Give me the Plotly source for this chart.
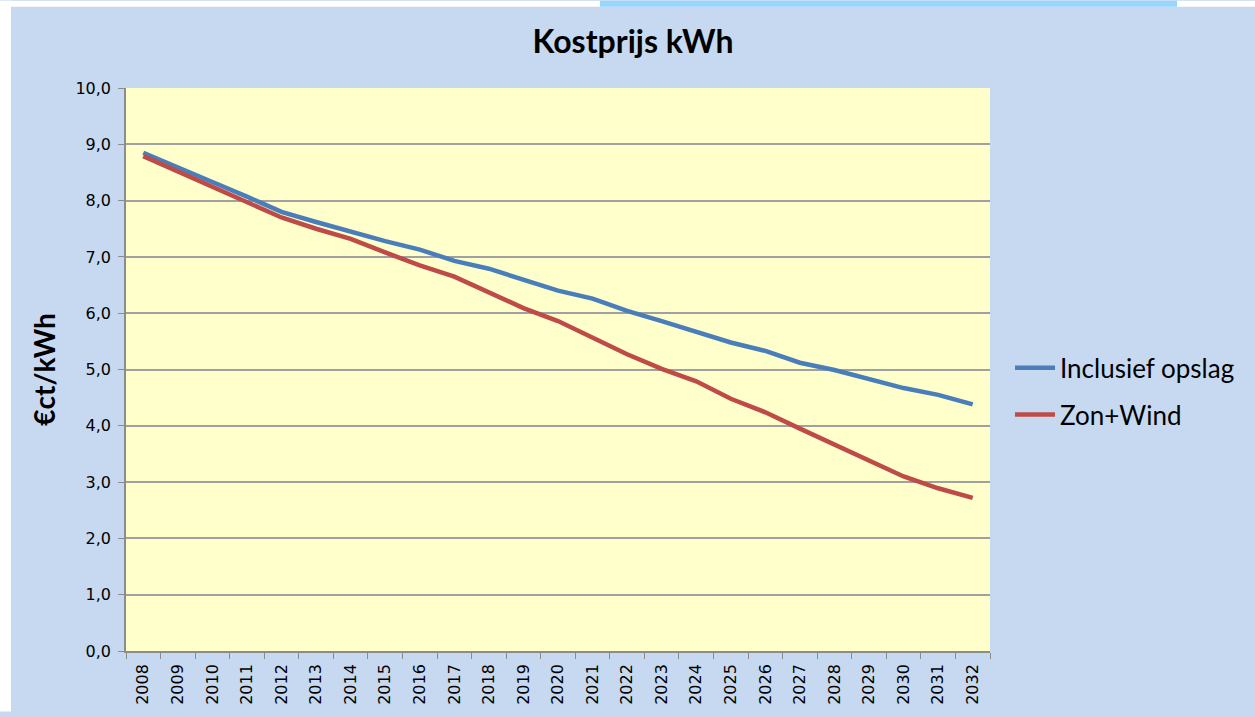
import plotly.graph_objects as go

years = [str(y) for y in range(2008, 2033)]
inclusief_opslag = [8.85, 8.58, 8.33, 8.07, 7.80, 7.62, 7.44, 7.28, 7.13, 6.93, 6.79, 6.60, 6.40, 6.26, 6.04, 5.86, 5.67, 5.48, 5.33, 5.12, 4.99, 4.83, 4.67, 4.55, 4.38]
zon_wind = [8.79, 8.52, 8.26, 7.98, 7.70, 7.50, 7.32, 7.08, 6.85, 6.65, 6.37, 6.09, 5.86, 5.56, 5.27, 5.01, 4.79, 4.48, 4.24, 3.95, 3.66, 3.37, 3.10, 2.89, 2.72]
y_ticks = [0, 1, 2, 3, 4, 5, 6, 7, 8, 9, 10]
y_labels = ["0,0", "1,0", "2,0", "3,0", "4,0", "5,0", "6,0", "7,0", "8,0", "9,0", "10,0"]

W, H = 1255, 717
L, R, T, B = 126, 265, 88, 61
PW, PH = W - L - R, H - T - B

def px(x):
    return (x - L) / PW

def py(y):
    return (H - B - y) / PH

fig = go.Figure()
fig.add_trace(go.Scatter(x=years, y=inclusief_opslag, mode="lines", name="Inclusief opslag",
                         legendgroup="a", line=dict(color="#4a7ebb", width=4.5)))
fig.add_trace(go.Scatter(x=years, y=zon_wind, mode="lines", name="Zon+Wind",
                         legendgroup="b", line=dict(color="#be4b48", width=4.5)))

shapes = [
    dict(type="rect", xref="paper", yref="paper", x0=px(0), x1=px(11), y0=py(H), y1=py(0),
         fillcolor="white", line=dict(width=0), layer="below"),
    dict(type="rect", xref="paper", yref="paper", x0=px(0), x1=px(W), y0=py(6), y1=py(0),
         fillcolor="white", line=dict(width=0), layer="below"),
    dict(type="rect", xref="paper", yref="paper", x0=px(600), x1=px(1177), y0=py(6), y1=py(0),
         fillcolor="#97d5fa", line=dict(width=0), layer="below"),
]

fig.update_layout(
    width=W, height=H,
    margin=dict(l=L, r=R, t=T, b=B),
    paper_bgcolor="#c6d9f1",
    plot_bgcolor="#ffffcc",
    shapes=shapes,
    title=dict(text="<b>Kostprijs kWh</b>", x=(11 + W) / 2 / W, xanchor="center",
               y=1 - 42 / H, yanchor="middle",
               font=dict(family="Lato, sans-serif", size=32, color="black")),
    font=dict(family="DejaVu Sans, sans-serif", color="black"),
    xaxis=dict(type="category", tickson="boundaries", ticks="outside", ticklen=6,
               tickcolor="#8c8c8c", showline=True, linecolor="#8c8c8c", linewidth=1.5,
               tickangle=-90, tickfont=dict(size=16), showgrid=False, ticklabelstandoff=5,
               range=[-0.5, len(years) - 0.5]),
    yaxis=dict(range=[0, 10], tickvals=y_ticks, ticktext=y_labels, ticks="outside",
               ticklen=6, tickcolor="#8c8c8c", showline=True, linecolor="#8c8c8c",
               linewidth=1.5, showgrid=True, gridcolor="#a0a0a0", gridwidth=1.5,
               tickfont=dict(size=16), zeroline=False, ticklabelstandoff=4,
               title=dict(text="<b>€ct/kWh</b>", standoff=12,
                          font=dict(family="Lato, sans-serif", size=28))),
    legend=dict(x=px(1010), xanchor="left", y=py(394), yanchor="middle",
                bgcolor="rgba(0,0,0,0)", tracegroupgap=10, itemwidth=40,
                font=dict(family="Lato, sans-serif", size=26)),
)

fig.write_html(
    "out.html",
    config={"displayModeBar": False},
    post_script="document.body.style.margin='0';",
)
